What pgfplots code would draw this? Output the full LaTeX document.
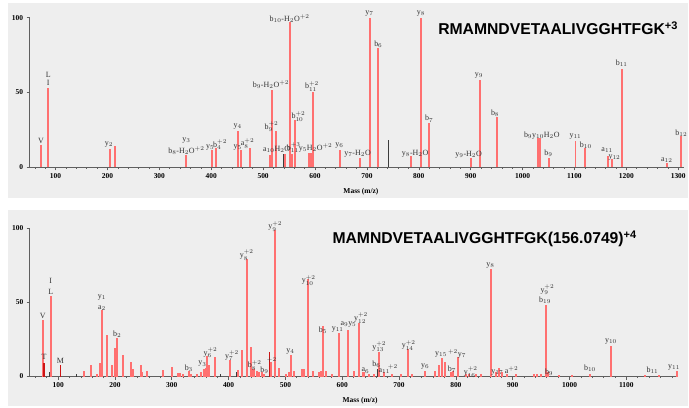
\documentclass[border=0pt]{standalone}
\usepackage{pgfplots}
\pgfplotsset{compat=1.18}
\usepackage{fontspec}
\setmainfont{Liberation Serif}
\newfontfamily\titlefont{Liberation Sans}
\definecolor{bg}{RGB}{238,238,238}
\definecolor{pk}{RGB}{255,112,112}
\definecolor{dk}{RGB}{205,20,20}
\definecolor{gr}{RGB}{60,60,60}
\definecolor{ax}{RGB}{95,95,95}
\newcommand{\Lb}[3]{\node[lbl] at (axis cs:#1,#2) {#3};}
\begin{document}
\begin{tikzpicture}
\fill[white] (0bp,0bp) rectangle (689bp,407bp);
\fill[bg] (8bp,208.7bp) rectangle (689bp,404bp);
\fill[bg] (8bp,0bp) rectangle (689bp,196.3bp);
\tikzset{lbl/.style={font=\fontsize{8}{8}\selectfont, text=black!80, inner sep=0pt}}
\pgfplotsset{spec/.style={scale only axis, enlargelimits=false,
  axis x line=bottom, axis y line=left,
  axis line style={ax, line width=0.9bp, -},
  ymin=0, ymax=100, ytick={0,50,100}, xtick distance=100, minor x tick num=4,
  tick align=outside, major tick length=3bp, minor tick length=1.5bp,
  tick style={ax, line width=0.6bp},
  tick label style={font=\fontsize{7.5}{8}\selectfont\bfseries},
  /pgf/number format/assume math mode=true, /pgf/number format/1000 sep={},
  clip=false, xlabel={Mass (m/z)},
  xlabel style={font=\fontsize{7.5}{8}\selectfont\bfseries, anchor=center, yshift=-24.5bp}}}

% ---------------- top panel ----------------
\begin{axis}[spec, at={(29.7bp,239.3bp)}, anchor=south west, width=656.2bp, height=150bp,
  xmin=50, xmax=1312, xlabel style={at={(axis description cs:0.506,0)}}]
\addplot[ycomb, pk, line width=2bp, no marks] coordinates {
(72,14.7) (86,53) (205,12.5) (213.6,14) (352,8.5) (402,11.6) (410,12.7)
(451.8,24) (457.5,11.6) (474,12.9) (514,8) (517,51.8) (525,24.5) (543,9)
(552,97.3) (555.8,9) (561.5,31.8) (587.7,9.6) (591.5,9.6) (596.7,50.2)
(647.4,11.8) (687,6.2) (705,100) (721.7,80) (785.8,7.3) (804.4,100)
(820.4,29.6) (900,6) (917.9,58.4) (950,33.4) (1030,19.6) (1033,19.6)
(1050.6,6.2) (1102,17.8) (1121,12.9) (1164,7.3) (1173,5.6) (1191.5,66)
(1278,3) (1305.8,20.7)};
\addplot[ycomb, gr, line width=1.2bp, no marks] coordinates {(539.6,9) (741.6,18.4)};
\Lb{72}{17.5}{V}
\Lb{86}{62}{L}
\Lb{86}{56.5}{I}
\Lb{203}{15}{y$_2$}
\Lb{352}{18}{y$_3$}
\Lb{352}{11}{b$_8$-H$_2$O$^{+2}$}
\Lb{398}{13}{y$_5$}
\Lb{417}{15}{b$_4^{+2}$}
\Lb{451}{27.5}{y$_4$}
\Lb{451}{13.5}{y$_5$}
\Lb{470}{16}{a$_8^{+2}$}
\Lb{515}{55}{b$_9$-H$_2$O$^{+2}$}
\Lb{516}{27}{b$_9^{+2}$}
\Lb{511}{11.5}{a$_{10}$}
\Lb{537}{12}{H$_2$O}
\Lb{559}{13}{b$_{11}^{+3}$}
\Lb{601}{13}{y$_5$H$_2$O$^{+2}$}
\Lb{551}{99.5}{b$_{10}$-H$_2$O$^{+2}$}
\Lb{568}{34}{b$_{10}^{+2}$}
\Lb{594}{54}{b$_{11}^{+2}$}
\Lb{647}{14.5}{y$_6$}
\Lb{682}{9}{y$_7$-H$_2$O}
\Lb{705}{102.5}{y$_7$}
\Lb{722}{82.5}{b$_6$}
\Lb{793}{9}{y$_8$-H$_2$O}
\Lb{804}{102.5}{y$_8$}
\Lb{820}{32.5}{b$_7$}
\Lb{896}{8.5}{y$_9$-H$_2$O}
\Lb{916}{61.5}{y$_9$}
\Lb{947}{36}{b$_8$}
\Lb{1037}{21.5}{b$_9$y$_{10}$H$_2$O}
\Lb{1050}{9.5}{b$_9$}
\Lb{1102}{20.5}{y$_{11}$}
\Lb{1122}{15}{b$_{10}$}
\Lb{1163}{11.5}{a$_{11}$}
\Lb{1177}{6.5}{y$_{12}$}
\Lb{1191}{69.5}{b$_{11}$}
\Lb{1278}{5}{a$_{12}$}
\Lb{1306}{23}{b$_{12}$}
\end{axis}
\node[anchor=base west, font=\titlefont\bfseries\fontsize{15.8}{16}\selectfont, inner sep=0pt]
  at (439bp,372bp) {RMAMNDVETAALIVGGHTFGK\textsuperscript{+3}};

% ---------------- bottom panel ----------------
\begin{axis}[spec, at={(29.8bp,29.7bp)}, anchor=south west, width=649.1bp, height=148.3bp,
  xmin=50, xmax=1190, xlabel style={at={(axis description cs:0.51,0)}}]
\addplot[ycomb, pk, line width=2bp, no marks] coordinates {
(73.7,38.2) (87,54.4) (145.7,4) (158,7.9) (169,2) (173.8,9) (176.7,44.9)
(185.5,27.8) (195.5,8) (200.8,19.5) (203.7,26.3) (214,14.4) (227.7,9.9)
(231.7,5) (245,7.9) (247.5,3) (257,3.4) (285,4.5) (299.7,6.5) (310.8,2.5)
(314,2.5) (319.5,2) (329.5,4) (334,2) (344.8,2) (352,3) (356,5) (359.4,6)
(362.4,13.9) (364.7,8) (375.8,13.3) (402.8,11.2) (417,4.5) (423,17.7)
(432,79.5) (439.6,20.2) (443,5) (445.5,5) (449.5,4) (454,3) (459,3) (463,2)
(474.8,10) (481,99.3) (488,6) (501,2) (505.7,3) (509,14.4) (515.7,4) (529,5)
(532,5) (539,65.6) (548,4) (559.6,3) (562.5,4) (566,34.1) (571.3,4) (582,2)
(594.7,29.7) (610.5,31.2) (620,4) (629.8,36.4) (635.7,3) (638.6,3)
(647.4,2) (656,2) (665,16.6) (673.8,3) (688,2) (703,2) (716.4,18.4) (722,2)
(745.8,4) (763.3,4) (770.4,7.6) (776,12.8) (781,10) (792,3) (795,4)
(804,13.5) (817,2) (823,2) (834.7,2) (843.6,2) (861,72.4) (870,3)
(875.7,5.6) (881.5,3) (890,2) (905,1.5) (937,2) (943,2) (949,2) (958.8,48)
(962,3) (981,1) (1004,1) (1036.8,2) (1073.6,20.7) (1133,1) (1156.7,1)
(1188.9,3.5)};
\addplot[ycomb, dk, line width=1.6bp, no marks] coordinates {(75,9.4) (104,7.8) (471.8,16.6)};
\addplot[ycomb, gr, line width=1bp, no marks] coordinates {(85.4,3) (132,2) (385,2) (414.4,3) (662,5)};
\Lb{73}{41}{V}
\Lb{75}{13}{T}
\Lb{87}{57.5}{L}
\Lb{87}{64.5}{I}
\Lb{104}{10.5}{M}
\Lb{177}{53.7}{y$_1$}
\Lb{177}{46.5}{a$_2$}
\Lb{204}{28.5}{b$_2$}
\Lb{330}{5.5}{b$_3$}
\Lb{354}{8.5}{y$_3$}
\Lb{368}{16}{y$_6^{+2}$}
\Lb{406}{14}{y$_7^{+2}$}
\Lb{432}{82}{y$_8^{+2}$}
\Lb{446}{7.5}{b$_8^{+2}$}
\Lb{463}{4.5}{b$_9$}
\Lb{476}{10.5}{$^{+2}$}
\Lb{482}{101.5}{y$_9^{+2}$}
\Lb{509}{17}{y$_4$}
\Lb{541}{65}{y$_{10}^{+2}$}
\Lb{566}{31.5}{b$_5$}
\Lb{592}{31.5}{y$_{11}$}
\Lb{611}{35}{a$_9$y$_5$}
\Lb{633}{39.5}{y$_{12}^{+2}$}
\Lb{641}{4}{a$_6$}
\Lb{665}{20}{y$_{13}^{+2}$}
\Lb{660}{8}{b$_6$}
\Lb{674}{3.5}{a$_{11}$}
\Lb{689}{5.5}{$^{+2}$}
\Lb{717}{21}{y$_{14}^{+2}$}
\Lb{746}{7}{y$_6$}
\Lb{774}{15}{y$_{15}$}
\Lb{802}{15.5}{$^{+2}$y$_7$}
\Lb{793}{5}{b$_7$}
\Lb{826}{3}{y$_{16}^{+2}$}
\Lb{861}{75}{y$_8$}
\Lb{873}{3}{y$_{17}$}
\Lb{898}{4.5}{a$^{+2}$}
\Lb{961}{58.5}{y$_9^{+2}$}
\Lb{957}{51.5}{b$_{19}$}
\Lb{964}{3}{b$_9$}
\Lb{1036}{5.5}{b$_{10}$}
\Lb{1073}{23.5}{y$_{10}$}
\Lb{1146}{4}{b$_{11}$}
\Lb{1184}{6}{y$_{11}$}
\end{axis}
\node[anchor=base west, font=\titlefont\bfseries\fontsize{15.8}{16}\selectfont, inner sep=0pt]
  at (333bp,162.7bp) {MAMNDVETAALIVGGHTFGK(156.0749)\textsuperscript{+4}};
\end{tikzpicture}
\end{document}
